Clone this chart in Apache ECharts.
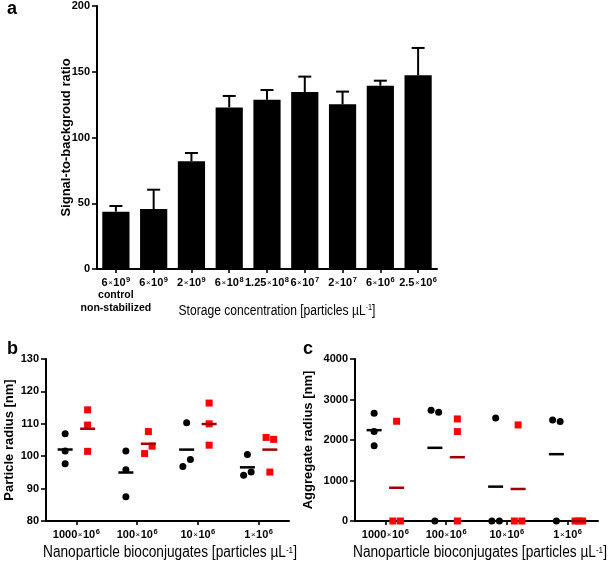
<!DOCTYPE html>
<html><head><meta charset="utf-8">
<script src="https://cdn.jsdelivr.net/npm/echarts@6/dist/echarts.min.js"></script>
<style>html,body{margin:0;padding:0;background:#fff}#c{width:609px;height:565px}</style>
</head><body><div id="c"></div>
<script>
// ---------- Panel a data ----------
const aCategories = ['6×10^9','6×10^9','2×10^9','6×10^8','1.25×10^8','6×10^7','2×10^7','6×10^6','2.5×10^6'];
const aFirstNote = ['control','non-stabilized'];
const aMeans = [43.6,45.6,81.9,122.9,128.8,134.6,125.2,139.4,147.3];
const aErrors = [4.3,14.7,6.3,8.7,7.3,11.7,9.7,3.8,20.8];
const aYTicks = [0,50,100,150,200];
const aXTitle = 'Storage concentration [particles µL^-1]';
const aYTitle = 'Signal-to-backgroud ratio';
// ---------- Panels b / c data ----------
const groups = ['1000×10^6','100×10^6','10×10^6','1×10^6'];
const bBlack = [[106.9,101.6,97.7],[101.6,95.8,87.5],[110.3,96.8,99.0],[100.5,94.1,95.1]];
const bRed   = [[114.3,109.6,101.5],[107.6,100.8,103.1],[116.4,110.0,103.4],[105.8,105.2,95.1]];
const bYTicks = [80,90,100,110,120,130];
const cBlack = [[2660,2210,1860],[2735,2686,0],[2545,0,0],[2496,2454,0]];
const cRed   = [[2463,0,0],[2520,2207,0],[2372,0,0],[0,0,0]];
const cYTicks = [0,1000,2000,3000,4000];
const bcXTitle = 'Nanoparticle bioconjugates [particles µL^-1]';
const bYTitle = 'Particle radius [nm]';
const cYTitle = 'Aggregate radius [nm]';

const FAM = 'Liberation Sans, Arial, sans-serif';

function sci(s){
  const [m, rest] = s.split('×');
  const [base, e] = rest.split('^');
  return '{n|' + m + '}{x|×}{n|' + base + '}{s|' + e + '}';
}
function supTitle(s){
  const [a, rest] = s.split('^');
  const m = rest.match(/^(-?\d+)(.*)$/);
  return a + '{s|' + m[1] + '}' + m[2];
}
const tickRich = {
  n:{fontFamily:FAM,fontWeight:'bold',fontSize:11,color:'#000',lineHeight:13},
  x:{fontFamily:FAM,fontWeight:'normal',fontSize:8,color:'#000',padding:[0,0.5,0,0.5]},
  s:{fontFamily:FAM,fontWeight:'bold',fontSize:7.5,color:'#000',verticalAlign:'top',padding:[0,0,0,0.5]},
  b:{fontFamily:FAM,fontWeight:'bold',fontSize:10.5,color:'#000',lineHeight:13}
};

function mean(a){return a.reduce((s,v)=>s+v,0)/a.length;}

// horizontal jitter of overlapping points (as a dot-plot does), computed from the values
function jitterXs(vals, center, side, range){
  const thr = range*0.055, spread = 0.124;
  const idx = vals.map((v,i)=>i).sort((a,b)=>vals[a]-vals[b]);
  const clusters = [[idx[0]]];
  for (let k=1;k<idx.length;k++){
    if (vals[idx[k]]-vals[idx[k-1]] < thr) clusters[clusters.length-1].push(idx[k]);
    else clusters.push([idx[k]]);
  }
  const xs = new Array(vals.length);
  clusters.forEach(cl=>{
    cl.sort((a,b)=>a-b);
    const n = cl.length;
    cl.forEach((i,j)=>{ xs[i] = center + side + (n===1?0:(-spread/2 + j*spread/(n-1))); });
  });
  return xs;
}

function dotSeries(data, side, range, gridIdx, symbol, color, meanColor){
  const pts = [], means = [];
  data.forEach((vals,g)=>{
    const xs = jitterXs(vals, g, side, range);
    vals.forEach((v,i)=>pts.push([xs[i], v]));
    means.push([g+side, mean(vals)]);
  });
  return [
    {type:'scatter', xAxisIndex:gridIdx, yAxisIndex:gridIdx, data:pts, symbol:symbol,
     symbolSize:7, itemStyle:{color:color, opacity:1}, clip:false, z:3, silent:true},
    {type:'scatter', xAxisIndex:gridIdx, yAxisIndex:gridIdx, data:means, symbol:'rect',
     symbolSize:[15,2.5], itemStyle:{color:meanColor, opacity:1}, clip:false, z:4, silent:true}
  ];
}

const axisLine = {show:true, onZero:false, lineStyle:{color:'#000', width:2}};
const axisTick = {show:true, length:5, lineStyle:{color:'#000', width:1.6}};
const yLabel = {color:'#000', fontFamily:FAM, fontWeight:'bold', fontSize:11, margin:7, formatter:v=>String(v)};
const yName = {fontFamily:FAM, fontWeight:'bold', fontSize:13, color:'#000'};

function groupXAxis(gi){
  return {type:'value', gridIndex:gi, min:-0.5, max:3.5, splitLine:{show:false},
    axisLine:axisLine,
    axisTick:{show:true, length:4, lineStyle:{color:'#000', width:1.6}, customValues:[0,1,2,3]},
    axisLabel:{customValues:[0,1,2,3], margin:7, formatter:v=>sci(groups[Math.round(v)]), rich:tickRich}
  };
}
function xTitle(text, cx, cy, size, sx){
  return {type:'text', x:cx, y:cy, scaleX:sx, silent:true,
    style:{text:supTitle(text), x:0, y:0, align:'center', verticalAlign:'middle',
      fontFamily:FAM, fontSize:size, fill:'#000',
      rich:{s:{fontFamily:FAM, fontSize:size*0.6, fill:'#000', verticalAlign:'top'}}}};
}

const chart = echarts.init(document.getElementById('c'), null, {renderer:'canvas'});
const option = {
  animation:false,
  backgroundColor:'#fff',
  grid:[
    {left:97, top:6, width:340, height:263},
    {left:46, top:359, width:243, height:162},
    {left:355, top:359, width:243, height:162}
  ],
  xAxis:[
    {type:'category', gridIndex:0, data:aCategories, boundaryGap:true,
     axisLine:axisLine, axisTick:{show:true, alignWithLabel:true, length:4, lineStyle:{color:'#000', width:1.6}},
     axisLabel:{interval:0, margin:7, rich:tickRich,
       formatter:(v,i)=> i===0 ? sci(v) + '\n' + aFirstNote.map(t=>'{b|'+t+'}').join('\n') : sci(v)}
    },
    groupXAxis(1),
    groupXAxis(2)
  ],
  yAxis:[
    {type:'value', gridIndex:0, min:aYTicks[0], max:aYTicks[aYTicks.length-1], interval:aYTicks[1]-aYTicks[0],
     splitLine:{show:false}, axisLine:axisLine, axisTick:axisTick, axisLabel:yLabel,
     name:aYTitle, nameLocation:'middle', nameGap:24, nameMoveOverlap:false, nameTextStyle:yName},
    {type:'value', gridIndex:1, min:bYTicks[0], max:bYTicks[bYTicks.length-1], interval:bYTicks[1]-bYTicks[0],
     splitLine:{show:false}, axisLine:axisLine, axisTick:axisTick, axisLabel:yLabel,
     name:bYTitle, nameLocation:'middle', nameGap:30, nameMoveOverlap:false, nameTextStyle:yName},
    {type:'value', gridIndex:2, min:cYTicks[0], max:cYTicks[cYTicks.length-1], interval:cYTicks[1]-cYTicks[0],
     splitLine:{show:false}, axisLine:axisLine, axisTick:axisTick, axisLabel:yLabel,
     name:cYTitle, nameLocation:'middle', nameGap:40, nameMoveOverlap:false, nameTextStyle:yName}
  ],
  graphic:[
    {type:'text', left:7, top:0, style:{text:'a', font:'bold 18px '+FAM, fill:'#000'}},
    {type:'text', left:7, top:340, style:{text:'b', font:'bold 18px '+FAM, fill:'#000'}},
    {type:'text', left:303, top:340, style:{text:'c', font:'bold 18px '+FAM, fill:'#000'}},
    xTitle(aXTitle, 277, 311, 15.5, 0.78),
    xTitle(bcXTitle, 170, 553, 16, 0.855),
    xTitle(bcXTitle, 480, 553, 16, 0.855)
  ],
  series:[
    {type:'bar', xAxisIndex:0, yAxisIndex:0, data:aMeans, barCategoryGap:'28%',
     itemStyle:{color:'#000'}, silent:true},
    {type:'custom', xAxisIndex:0, yAxisIndex:0, silent:true, z:3,
     data:aMeans.map((m,i)=>[i,m,aErrors[i]]),
     renderItem:(params, api)=>{
       const p0 = api.coord([api.value(0), api.value(1)]);
       const p1 = api.coord([api.value(0), api.value(1)+api.value(2)]);
       const half = 6.5;
       return {type:'group', children:[
         {type:'line', shape:{x1:p0[0],y1:p0[1],x2:p1[0],y2:p1[1]}, style:{stroke:'#000', lineWidth:2}},
         {type:'line', shape:{x1:p1[0]-half,y1:p1[1],x2:p1[0]+half,y2:p1[1]}, style:{stroke:'#000', lineWidth:2}}
       ]};
     }},
    ...dotSeries(bBlack, -0.185, bYTicks[bYTicks.length-1]-bYTicks[0], 1, 'circle', '#000', '#000'),
    ...dotSeries(bRed, 0.185, bYTicks[bYTicks.length-1]-bYTicks[0], 1, 'rect', '#ff0000', '#a00000'),
    ...dotSeries(cBlack, -0.185, cYTicks[cYTicks.length-1]-cYTicks[0], 2, 'circle', '#000', '#000'),
    ...dotSeries(cRed, 0.185, cYTicks[cYTicks.length-1]-cYTicks[0], 2, 'rect', '#ff0000', '#a00000')
  ]
};
chart.setOption(option);
</script>
</body></html>
